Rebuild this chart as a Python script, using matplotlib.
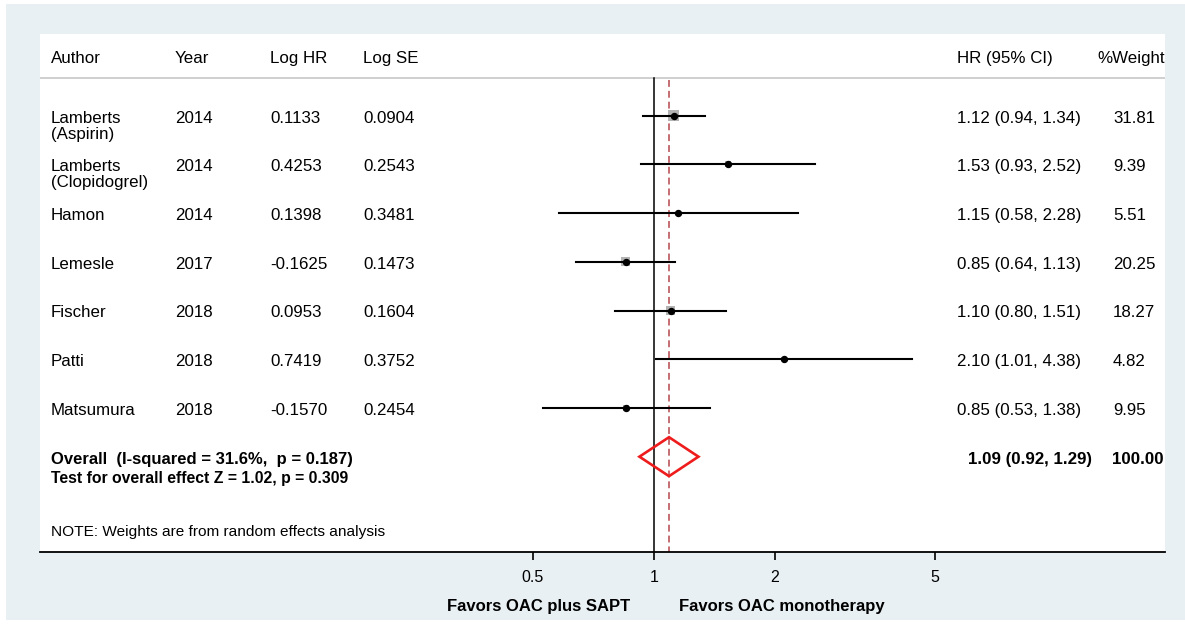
import matplotlib

matplotlib.use("Agg")
import matplotlib.pyplot as plt
import matplotlib.transforms as mtransforms
from matplotlib.patches import Polygon, Rectangle

plt.rcParams["font.family"] = ["Liberation Sans", "DejaVu Sans"]

# study data
authors = ["Lamberts\n(Aspirin)", "Lamberts\n(Clopidogrel)", "Hamon", "Lemesle",
           "Fischer", "Patti", "Matsumura"]
years = [2014, 2014, 2014, 2017, 2018, 2018, 2018]
log_hr = [0.1133, 0.4253, 0.1398, -0.1625, 0.0953, 0.7419, -0.1570]
log_se = [0.0904, 0.2543, 0.3481, 0.1473, 0.1604, 0.3752, 0.2454]
hr = [1.12, 1.53, 1.15, 0.85, 1.10, 2.10, 0.85]
hr_lo = [0.94, 0.93, 0.58, 0.64, 0.80, 1.01, 0.53]
hr_hi = [1.34, 2.52, 2.28, 1.13, 1.51, 4.38, 1.38]
weights = [31.81, 9.39, 5.51, 20.25, 18.27, 4.82, 9.95]

overall_hr = 1.09
overall_lo = 0.92
overall_hi = 1.29
overall_weight = 100.00

headers = ["Author", "Year", "Log HR", "Log SE", "HR (95% CI)", "%Weight"]
xticks = [0.5, 1, 2, 5]
xtick_labels = ["0.5", "1", "2", "5"]

W, H = 1185, 626
fig = plt.figure(figsize=(W / 100, H / 100), dpi=100)
fig.patch.set_facecolor("white")
fig.patches.append(Rectangle((6 / W, (H - 620) / H), (W - 6) / W, (620 - 4) / H,
                             transform=fig.transFigure, facecolor="#e8f0f3",
                             edgecolor="none", zorder=0))

left, right, top, bottom = 40, 1165, 34, 552
ax = fig.add_axes([left / W, (H - bottom) / H, (right - left) / W, (bottom - top) / H])
ax.set_facecolor("white")
ax.set_zorder(1)

ax.set_xscale("log")
ax.set_xlim(0.0297, 18.67)
ax.set_ylim(8.957, -1.678)
for s in ["top", "left", "right"]:
    ax.spines[s].set_visible(False)
ax.spines["bottom"].set_linewidth(1.3)
ax.set_yticks([])
ax.set_xticks(xticks)
ax.set_xticklabels(xtick_labels)
ax.minorticks_off()
ax.tick_params(axis="x", direction="out", length=6, width=1.2, pad=7, labelsize=11.5)

tr = mtransforms.blended_transform_factory(ax.transAxes, ax.transData)


def fx(px):
    return (px - left) / (right - left)


fs = 12.2
header_row = -1.185
line_row = -0.774
ax.axhline(line_row, color="#cfcfcf", lw=1.4)

hdr_x = [51, 175, 270, 363, 957, 1097]
for h, px in zip(headers, hdr_x):
    ax.text(fx(px), header_row, h, transform=tr, ha="left", va="center", fontsize=fs)

# reference lines
ax.plot([1, 1], [line_row, 8.957], color="black", lw=1.1, zorder=2)
ax.plot([overall_hr, overall_hr], [line_row + 0.05, 8.957], color="#b5474b", lw=1.1,
        dashes=(4.5, 2.6), zorder=2)

rows = list(range(len(authors)))
for r in rows:
    ax.plot([hr_lo[r], hr_hi[r]], [r, r], color="black", lw=1.5, zorder=4)
ax.scatter(hr, rows, marker="s", s=[2.0 * w for w in weights], color="#b3b3b3",
           edgecolors="none", zorder=3)
ax.plot(hr, rows, "o", color="black", markersize=4.3, zorder=5, linestyle="none")

for r in rows:
    ty = r + 0.05
    for k, line in enumerate(authors[r].split("\n")):
        ax.text(fx(51), ty + 0.33 * k, line, transform=tr, ha="left", va="center", fontsize=fs)
    ax.text(fx(175), ty, str(years[r]), transform=tr, ha="left", va="center", fontsize=fs)
    ax.text(fx(270), ty, f"{log_hr[r]:.4f}", transform=tr, ha="left", va="center", fontsize=fs)
    ax.text(fx(363), ty, f"{log_se[r]:.4f}", transform=tr, ha="left", va="center", fontsize=fs)
    ax.text(fx(957), ty, f"{hr[r]:.2f} ({hr_lo[r]:.2f}, {hr_hi[r]:.2f})", transform=tr,
            ha="left", va="center", fontsize=fs)
    ax.text(fx(1113), ty, f"{weights[r]:.2f}", transform=tr, ha="left", va="center", fontsize=fs)

# overall diamond
orow = 7
diamond = Polygon([(overall_lo, orow), (overall_hr, orow - 0.4), (overall_hi, orow),
                   (overall_hr, orow + 0.4)], closed=True, fill=False,
                  edgecolor="#ee1c1c", lw=1.9, zorder=6)
ax.add_patch(diamond)

ax.text(fx(51), orow + 0.06, "Overall  (I-squared = 31.6%,  p = 0.187)", transform=tr,
        ha="left", va="center", fontsize=12.0, fontweight="bold")
ax.text(fx(51), orow + 0.45, "Test for overall effect Z = 1.02, p = 0.309", transform=tr,
        ha="left", va="center", fontsize=11.3, fontweight="bold")
ax.text(fx(968), orow + 0.06, f"{overall_hr:.2f} ({overall_lo:.2f}, {overall_hi:.2f})",
        transform=tr, ha="left", va="center", fontsize=fs, fontweight="bold")
ax.text(fx(1112), orow + 0.06, f"{overall_weight:.2f}", transform=tr, ha="left",
        va="center", fontsize=fs, fontweight="bold")
ax.text(fx(51), 8.55, "NOTE: Weights are from random effects analysis", transform=tr,
        ha="left", va="center", fontsize=11.1)

# direction labels
tb = mtransforms.blended_transform_factory(ax.transData, ax.transAxes)
ax.annotate("Favors OAC plus SAPT", xy=(1, 0), xycoords=tb, xytext=(-17, -39),
            textcoords="offset points", ha="right", va="center", fontsize=12,
            fontweight="bold", annotation_clip=False)
ax.annotate("Favors OAC monotherapy", xy=(1, 0), xycoords=tb, xytext=(18, -39),
            textcoords="offset points", ha="left", va="center", fontsize=12,
            fontweight="bold", annotation_clip=False)

fig.savefig("out.png", dpi=100, facecolor="white")
